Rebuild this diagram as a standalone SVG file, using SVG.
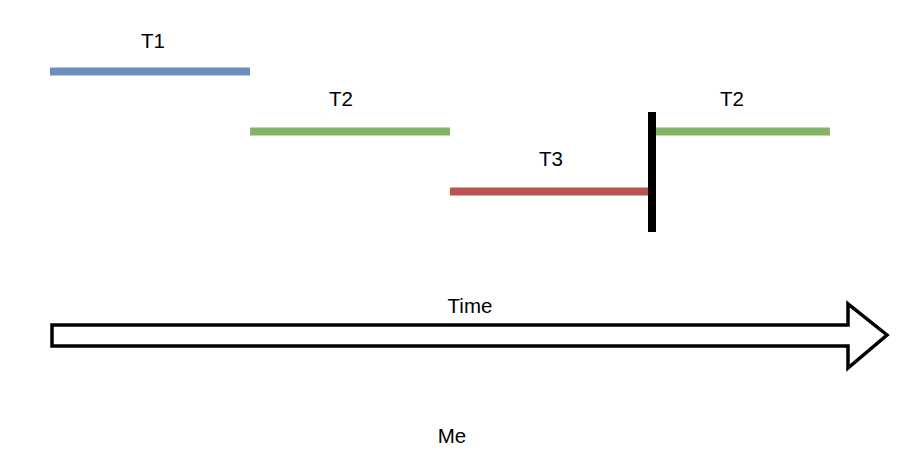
<svg xmlns="http://www.w3.org/2000/svg" width="912" height="466" viewBox="0 0 912 466">
<style>
text{font-family:"Liberation Sans",Arial,sans-serif;font-size:20.5px;fill:#000;text-anchor:middle}
.bar{stroke-width:8;fill:none}
</style>
<rect width="912" height="466" fill="#fff"/>
<g id="t1"><line class="bar" x1="50" y1="71.5" x2="250" y2="71.5" stroke="#6c8ebf"/><text x="153" y="47.5">T1</text></g>
<g id="t2a"><line class="bar" x1="250" y1="131.5" x2="450" y2="131.5" stroke="#82b366"/><text x="341" y="105.5">T2</text></g>
<g id="t3"><line class="bar" x1="450" y1="191.5" x2="650" y2="191.5" stroke="#b85450"/><text x="551" y="165.5">T3</text></g>
<g id="t2b"><line class="bar" x1="652" y1="131.5" x2="830" y2="131.5" stroke="#82b366"/><text x="732" y="105.5">T2</text></g>
<g id="cut"><line x1="652" y1="112" x2="652" y2="232" stroke="#000" stroke-width="8"/></g>
<g id="time"><path d="M52,325 H848 V304 L887,335 L848,368 V346 H52 Z" fill="#fff" stroke="#000" stroke-width="3.5"/><text x="470" y="313">Time</text></g>
<g id="me"><text x="452" y="442.5">Me</text></g>
</svg>
